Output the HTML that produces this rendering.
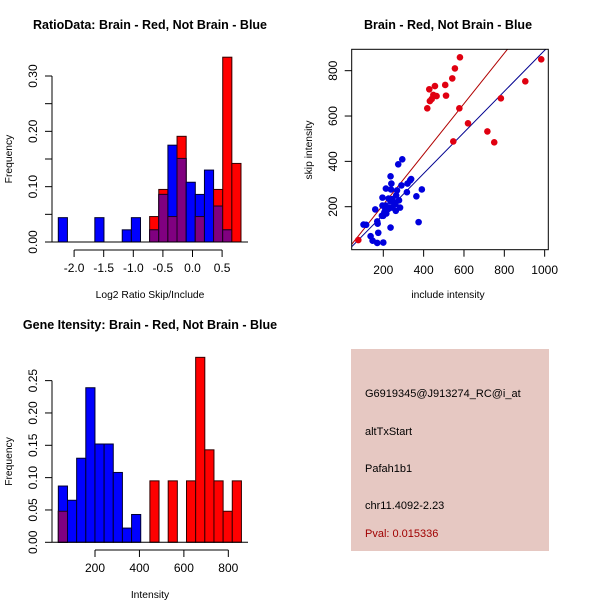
<!DOCTYPE html>
<html><head><meta charset="utf-8"><style>
html,body{margin:0;padding:0;background:#fff;}
svg{display:block;font-family:"Liberation Sans",Arial,sans-serif;}
</style></head><body>
<svg id="c" width="600" height="600" viewBox="0 0 600 600">
<g id="p1"></g>
<g id="p2"></g>
<g id="p3"></g>
<g>
<rect x="351" y="349" width="198" height="202" fill="#e6c8c2"/>
<text x="365" y="397" font-size="11">G6919345@J913274_RC@i_at</text>
<text x="365" y="435" font-size="11">altTxStart</text>
<text x="365" y="472" font-size="11">Pafah1b1</text>
<text x="365" y="509" font-size="11">chr11.4092-2.23</text>
<text x="365" y="537" font-size="11" fill="#a00000">Pval: 0.015336</text>
</g>
</svg>
<script>
// ---- Panel 1 data ----
const ratioBreakStart = -2.267;
const ratioBinWidth = 0.1543;
const ratioRed = [0,0,0,0,0,0,0,0,0,0,0.046,0.095,0.046,0.191,0,0.046,0,0.095,0.334,0.142];
const ratioBlue = [0.044,0,0,0,0.044,0,0,0.022,0.044,0,0.022,0.086,0.175,0.151,0.108,0.086,0.130,0.065,0.022,0];
const ratioXTicks = [-2.0,-1.5,-1.0,-0.5,0.0,0.5];
const ratioXLabels = ["-2.0","-1.5","-1.0","-0.5","0.0","0.5"];
const ratioYTicks = [0,0.05,0.10,0.15,0.20,0.25,0.30];
const ratioYLabels = ["0.00","","0.10","","0.20","","0.30"];
// ---- Panel 2 data ----
const redPts = [[76,53],[580,859],[555,810],[542,766],[507,737],[428,718],[456,732],[448,693],[440,675],[431,666],[464,688],[418,634],[511,690],[577,634],[620,568],[547,488],[716,532],[750,484],[783,678],[904,753],[983,850]];
const bluePts = [[294,409],[274,387],[236,334],[213,280],[240,302],[268,272],[264,250],[245,234],[290,294],[320,302],[333,316],[338,322],[317,264],[364,246],[391,276],[278,228],[250,222],[236,224],[283,196],[262,182],[245,196],[230,195],[225,190],[210,185],[205,175],[212,205],[196,205],[200,160],[215,170],[193,160],[196,240],[226,236],[238,276],[260,212],[160,188],[170,135],[172,125],[175,85],[102,121],[115,120],[137,70],[147,50],[170,40],[200,42],[236,108],[375,132]];
const redFit = [-14,1.114];
const blueFit = [-16,0.906];
const scXTicks = [200,400,600,800,1000];
const scYTicks = [200,400,600,800];
// ---- Panel 3 data ----
const geneBreakStart = 35;
const geneBinWidth = 41.2;
const geneRed = [0.048,0,0,0,0,0,0,0,0,0,0.095,0,0.095,0,0.095,0.286,0.143,0.095,0.048,0.095];
const geneBlue = [0.087,0.065,0.130,0.239,0.152,0.152,0.108,0.022,0.043,0,0,0,0,0,0,0,0,0,0,0];
const geneXTicks = [200,400,600,800];
const geneYTicks = [0,0.05,0.10,0.15,0.20,0.25];
const geneYLabels = ["0.00","0.05","0.10","0.15","0.20","0.25"];

const NS="http://www.w3.org/2000/svg";
function mk(parent,tag,attrs,txt){const e=document.createElementNS(NS,tag);for(const k in attrs)e.setAttribute(k,attrs[k]);if(txt!==undefined)e.textContent=txt;parent.appendChild(e);return e;}

function hist(g,opt){
  const sx=opt.sx, sy=opt.sy;
  for(let i=0;i<opt.red.length;i++){
    const x0=sx(opt.start+i*opt.w), x1=sx(opt.start+(i+1)*opt.w);
    const r=opt.red[i], b=opt.blue[i];
    if(r>0){const e=mk(g,'rect',{x:x0,y:sy(r),width:x1-x0,height:sy(0)-sy(r),fill:'#ff0000',stroke:'#300','stroke-width':1});
      
      }
    if(b>0){const e=mk(g,'rect',{x:x0,y:sy(b),width:x1-x0,height:sy(0)-sy(b),fill:'#0000ff',stroke:'#000030','stroke-width':1});
      
      }
    const m=Math.min(r,b);
    if(m>0){const e=mk(g,'rect',{x:x0,y:sy(m),width:x1-x0,height:sy(0)-sy(m),fill:'#800080',stroke:'#200020','stroke-width':1});
      
      }
  }
  const bl=mk(g,'line',{x1:52,x2:248,y1:sy(0),y2:sy(0),stroke:'#000'});
  
  
  const ay=opt.axY;
  const xa=mk(g,'line',{x1:sx(opt.xt[0]),x2:sx(opt.xt[opt.xt.length-1]),y1:ay,y2:ay,stroke:'#000'});
  
  
  opt.xt.forEach((v,i)=>{mk(g,'line',{x1:sx(v),x2:sx(v),y1:ay,y2:ay+7,stroke:'#000'});
    const t=mk(g,'text',{x:sx(v),y:ay+22,'font-size':12,'text-anchor':'middle'},opt.xl[i]);
    
    });
  const ya=mk(g,'line',{x1:52,x2:52,y1:sy(opt.yt[0]),y2:sy(opt.yt[opt.yt.length-1]),stroke:'#000'});
  
  
  opt.yt.forEach((v,i)=>{mk(g,'line',{x1:45,x2:52,y1:sy(v),y2:sy(v),stroke:'#000'});
    if(opt.yl[i]){const t=mk(g,'text',{x:37,y:sy(v),'font-size':12,'text-anchor':'middle',transform:`rotate(-90 37 ${sy(v)})`},opt.yl[i]);
    
    }});
  const tt=mk(g,'text',{x:150,y:opt.titleY,'font-size':12.5,'font-weight':'bold','text-anchor':'middle'},opt.title);
  
  
  const xl=mk(g,'text',{x:150,y:opt.xlabY,'font-size':10.3,'text-anchor':'middle'},opt.xlab);
  
  
  const cy=(sy(0)+sy(opt.yt[opt.yt.length-1]))/2;
  const yl=mk(g,'text',{x:12,y:cy,'font-size':10.3,'text-anchor':'middle',transform:`rotate(-90 12 ${cy})`},'Frequency');
  
  
}

hist(document.getElementById('p1'),{
  sx:v=>192.5+v*59.2, sy:v=>242-v*553.3, start:ratioBreakStart, w:ratioBinWidth,
  red:ratioRed, blue:ratioBlue, xt:ratioXTicks, xl:ratioXLabels, yt:ratioYTicks, yl:ratioYLabels,
  axY:250, title:'RatioData: Brain - Red, Not Brain - Blue', titleY:29, xlab:'Log2 Ratio Skip/Include', xlabY:298
});
hist(document.getElementById('p3'),{
  sx:v=>95+(v-200)*0.2222, sy:v=>542.3-v*646.7, start:geneBreakStart, w:geneBinWidth,
  red:geneRed, blue:geneBlue, xt:geneXTicks, xl:geneXTicks.map(String), yt:geneYTicks, yl:geneYLabels,
  axY:550, title:'Gene Itensity: Brain - Red, Not Brain - Blue', titleY:329, xlab:'Intensity', xlabY:598
});

(function(){
  const g=document.getElementById('p2');
  const sx=v=>383.3+(v-200)*0.2017, sy=v=>206.7-(v-200)*0.2267;
  const cp=mk(g,'clipPath',{id:'clip2'});mk(cp,'rect',{x:351.7,y:49.3,width:196.6,height:200.4});
  const lg=mk(g,'g',{'clip-path':'url(#clip2)'});
  [[redFit,'#b00000','red-fit-line'],[blueFit,'#000090','blue-fit-line']].forEach(([f,c,n])=>{
    const x0=0,x1=1100;
    const l=mk(lg,'line',{x1:sx(x0),y1:sy(f[0]+f[1]*x0),x2:sx(x1),y2:sy(f[0]+f[1]*x1),stroke:c,'stroke-width':1});
    
    
  });
  bluePts.forEach(p=>{const c=mk(g,'circle',{cx:sx(p[0]),cy:sy(p[1]),r:3.3,fill:'#0000dd'});
    
    });
  redPts.forEach(p=>{const c=mk(g,'circle',{cx:sx(p[0]),cy:sy(p[1]),r:3.3,fill:'#e00010'});
    
    });
  const box=mk(g,'rect',{x:351.7,y:49.3,width:196.6,height:200.4,fill:'none',stroke:'#000'});
  
  
  scXTicks.forEach(v=>{mk(g,'line',{x1:sx(v),x2:sx(v),y1:249.7,y2:256.7,stroke:'#000'});
    const t=mk(g,'text',{x:sx(v),y:274,'font-size':12,'text-anchor':'middle'},String(v));
    
    });
  scYTicks.forEach(v=>{mk(g,'line',{x1:344.7,x2:351.7,y1:sy(v),y2:sy(v),stroke:'#000'});
    const t=mk(g,'text',{x:337,y:sy(v),'font-size':12,'text-anchor':'middle',transform:`rotate(-90 337 ${sy(v)})`},String(v));
    
    });
  const tt=mk(g,'text',{x:448,y:29,'font-size':12.5,'font-weight':'bold','text-anchor':'middle'},'Brain - Red, Not Brain - Blue');
  
  
  const xl=mk(g,'text',{x:448,y:298,'font-size':10.3,'text-anchor':'middle'},'include intensity');
  
  
  const yl=mk(g,'text',{x:312,y:150,'font-size':10.3,'text-anchor':'middle',transform:'rotate(-90 312 150)'},'skip intensity');
  
  
})();
</script>
</body></html>
